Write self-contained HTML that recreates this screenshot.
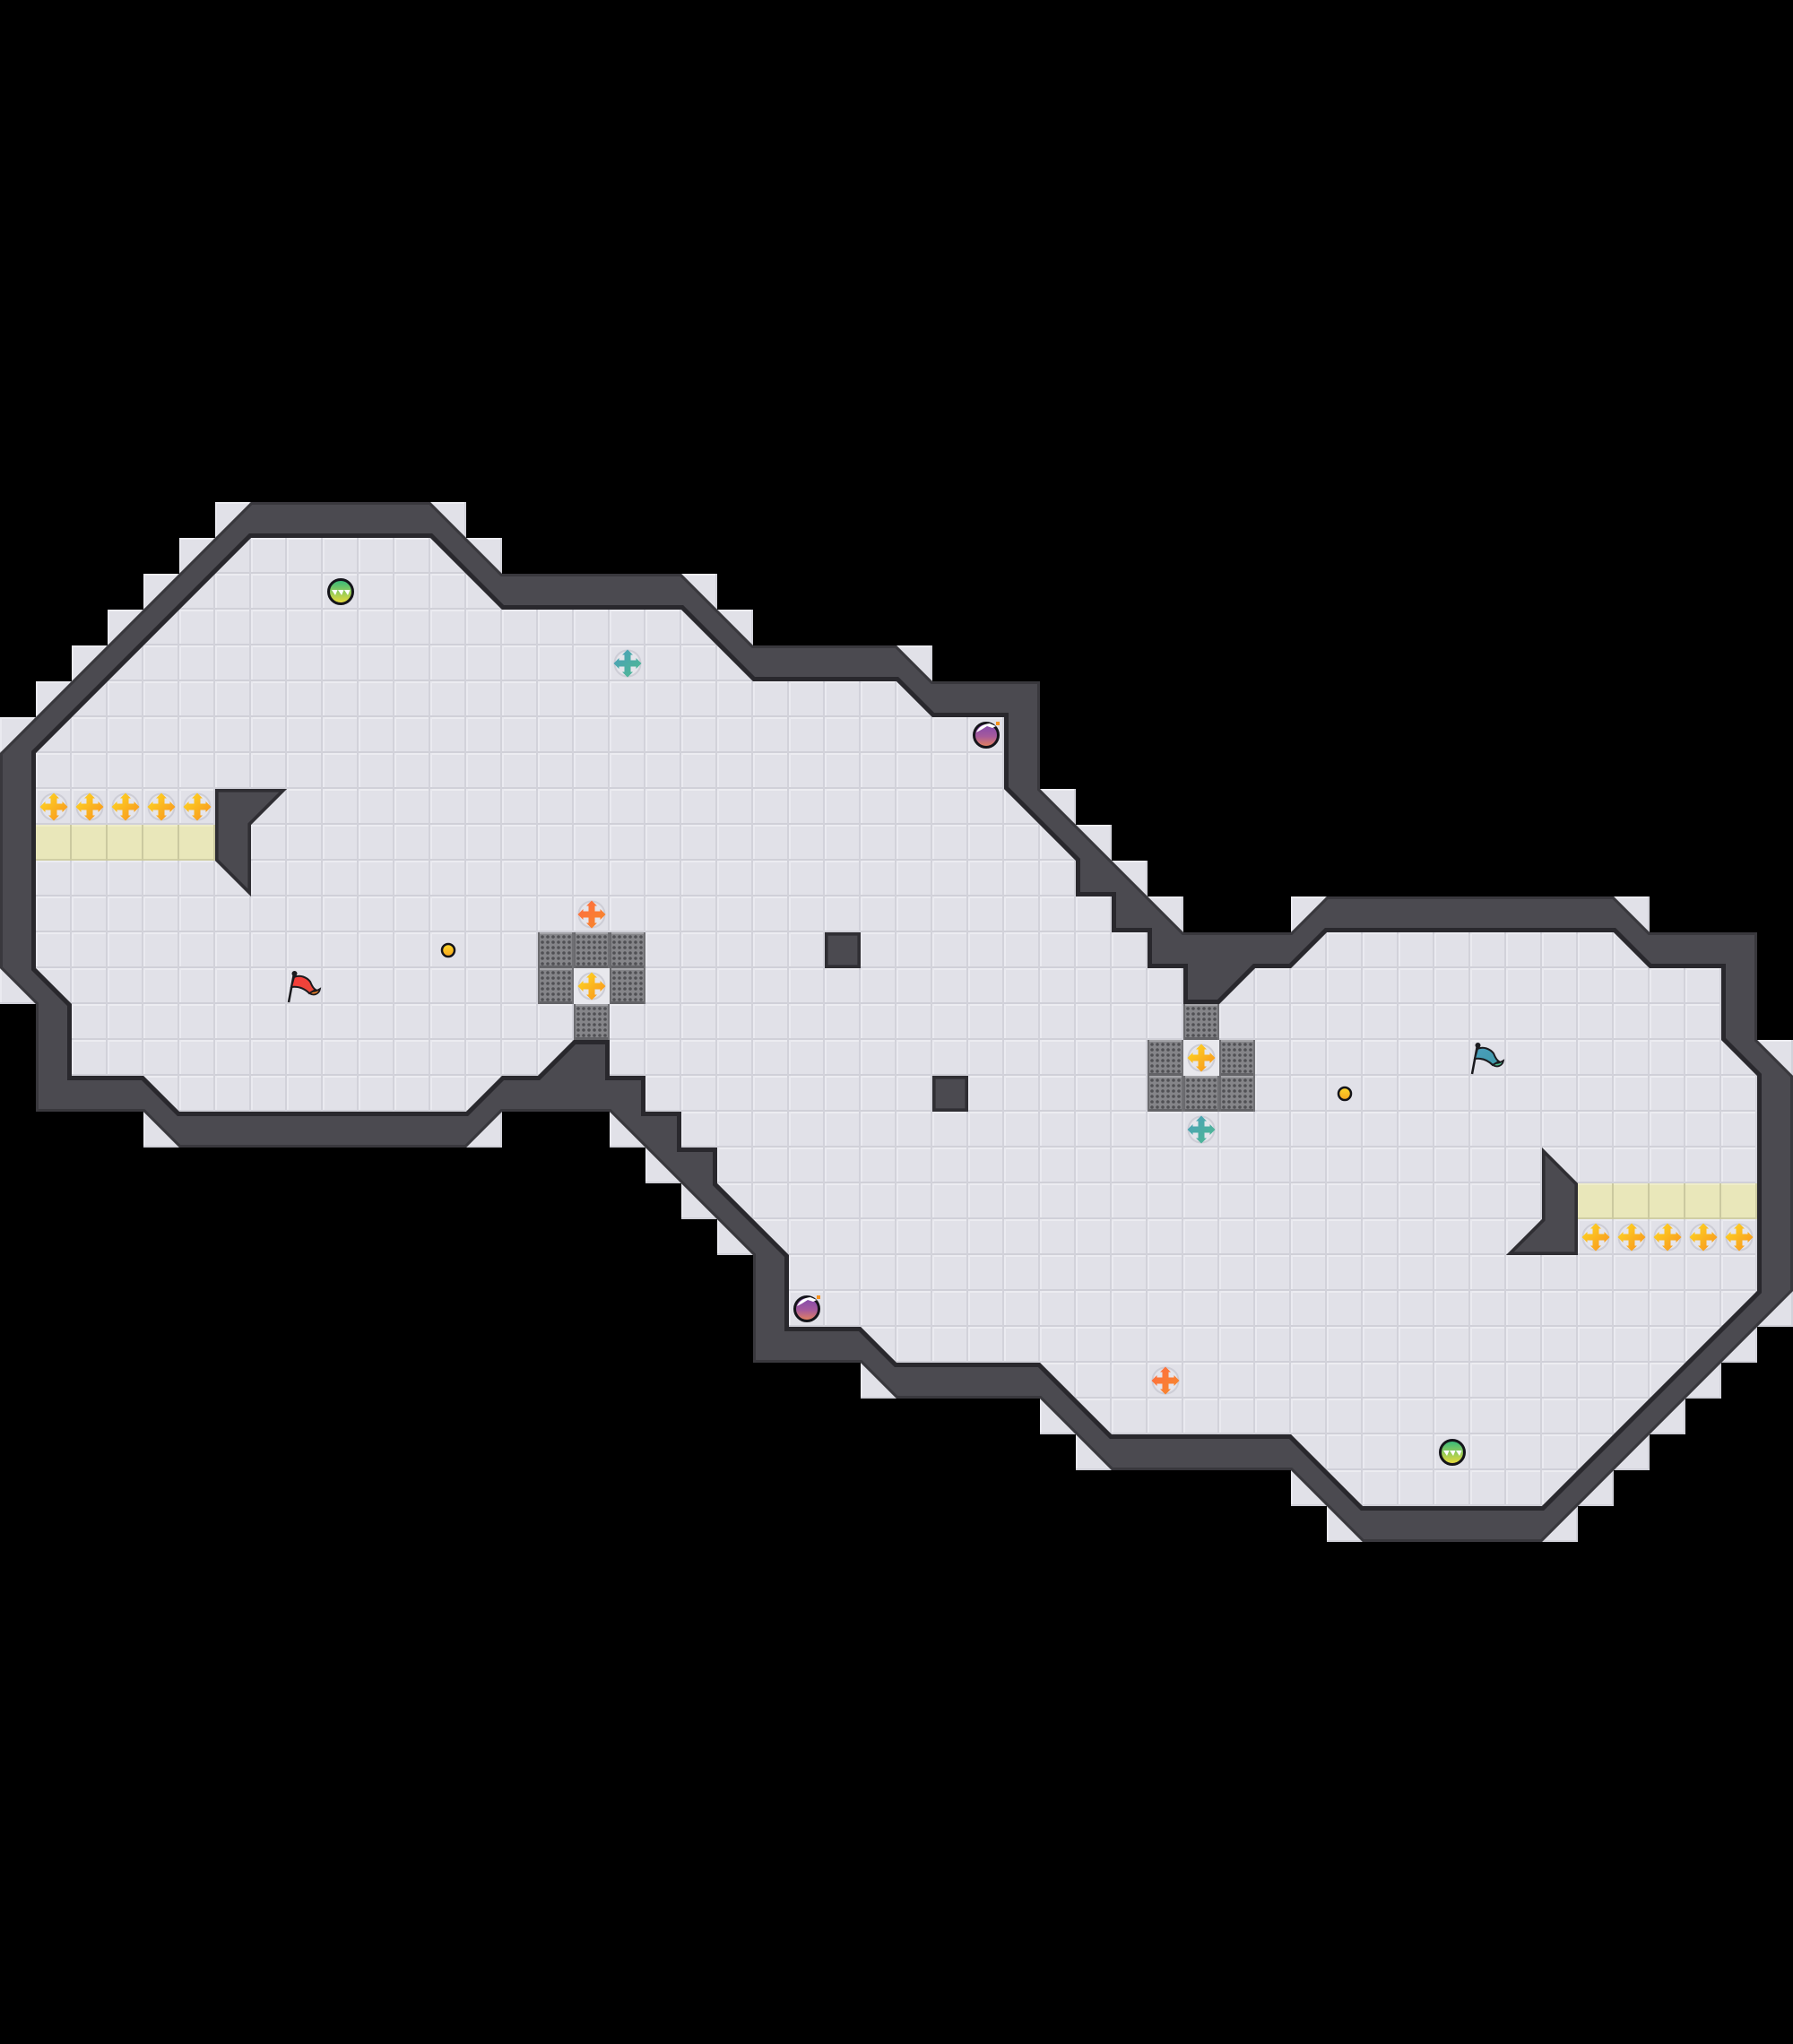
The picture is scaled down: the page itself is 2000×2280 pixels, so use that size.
<!DOCTYPE html>
<html>
<head>
<meta charset="utf-8">
<style>
html,body{margin:0;padding:0;background:#000;width:2000px;height:2280px;overflow:hidden}
svg{display:block}
</style>
</head>
<body>
<svg xmlns="http://www.w3.org/2000/svg" width="2000" height="2280" viewBox="0 0 2000 2280">
<defs>
  <pattern id="t" width="1" height="1" patternUnits="userSpaceOnUse" viewBox="0 0 40 40">
    <rect width="40" height="40" fill="#e1e1e8"/>
    <rect width="40" height="2" fill="#ececf1"/>
    <rect width="2" height="40" fill="#eaeaf0"/>
    <rect y="38" width="40" height="2" fill="#d0d0d8"/>
    <rect x="38" width="2" height="40" fill="#d2d2da"/>
  </pattern>
  <pattern id="y" width="1" height="1" patternUnits="userSpaceOnUse" viewBox="0 0 40 40">
    <rect width="40" height="40" fill="#e9e7ba"/>
    <rect width="40" height="2" fill="#efedc8"/>
    <rect y="38" width="40" height="2" fill="#d0cea4"/>
    <rect x="38" width="2" height="40" fill="#cbc9a0"/>
  </pattern>
  <pattern id="g" width="1" height="1" patternUnits="userSpaceOnUse" viewBox="0 0 40 40">
    <rect width="40" height="40" fill="#858589"/>
    <rect width="40" height="2" fill="#a3a3a7"/>
    <rect y="37" width="40" height="3" fill="#636367"/>
    <rect width="2" height="40" fill="#6a6a6e"/>
    <rect x="38" width="2" height="40" fill="#707074"/>
    <g fill="#505054">
      <circle cx="5" cy="5" r="1.8"/><circle cx="11" cy="5" r="1.8"/><circle cx="17" cy="5" r="1.8"/><circle cx="23" cy="5" r="1.8"/><circle cx="29" cy="5" r="1.8"/><circle cx="35" cy="5" r="1.8"/>
      <circle cx="5" cy="11" r="1.8"/><circle cx="11" cy="11" r="1.8"/><circle cx="17" cy="11" r="1.8"/><circle cx="23" cy="11" r="1.8"/><circle cx="29" cy="11" r="1.8"/><circle cx="35" cy="11" r="1.8"/>
      <circle cx="5" cy="17" r="1.8"/><circle cx="11" cy="17" r="1.8"/><circle cx="17" cy="17" r="1.8"/><circle cx="23" cy="17" r="1.8"/><circle cx="29" cy="17" r="1.8"/><circle cx="35" cy="17" r="1.8"/>
      <circle cx="5" cy="23" r="1.8"/><circle cx="11" cy="23" r="1.8"/><circle cx="17" cy="23" r="1.8"/><circle cx="23" cy="23" r="1.8"/><circle cx="29" cy="23" r="1.8"/><circle cx="35" cy="23" r="1.8"/>
      <circle cx="5" cy="29" r="1.8"/><circle cx="11" cy="29" r="1.8"/><circle cx="17" cy="29" r="1.8"/><circle cx="23" cy="29" r="1.8"/><circle cx="29" cy="29" r="1.8"/><circle cx="35" cy="29" r="1.8"/>
      <circle cx="5" cy="35" r="1.8"/><circle cx="11" cy="35" r="1.8"/><circle cx="17" cy="35" r="1.8"/><circle cx="23" cy="35" r="1.8"/><circle cx="29" cy="35" r="1.8"/><circle cx="35" cy="35" r="1.8"/>
    </g>
  </pattern>

  <linearGradient id="cy" x1="0" y1="0" x2="1" y2="1"><stop offset="0" stop-color="#ffdc23"/><stop offset="1" stop-color="#f78f1e"/></linearGradient>
  <linearGradient id="co" x1="0" y1="0" x2="1" y2="1"><stop offset="0" stop-color="#ff6b42"/><stop offset="1" stop-color="#f68a2a"/></linearGradient>
  <linearGradient id="ct" x1="0" y1="0" x2="1" y2="1"><stop offset="0" stop-color="#4a9ebd"/><stop offset="1" stop-color="#4fbb8f"/></linearGradient>
  <linearGradient id="bg" x1="0" y1="0" x2="0" y2="1"><stop offset="0" stop-color="#2fb87e"/><stop offset="1" stop-color="#f0dc38"/></linearGradient>
  <linearGradient id="bp" x1="0" y1="0" x2="0" y2="1"><stop offset="0" stop-color="#7f48b0"/><stop offset=".55" stop-color="#a65a9c"/><stop offset="1" stop-color="#e8845a"/></linearGradient>
  <linearGradient id="bd" x1="0" y1="0" x2="0" y2="1"><stop offset="0" stop-color="#ffd92b"/><stop offset="1" stop-color="#f7a51e"/></linearGradient>
  <linearGradient id="fr" x1="0" y1="0" x2="1" y2="1"><stop offset="0" stop-color="#f83a3a"/><stop offset="1" stop-color="#e84a3a"/></linearGradient>
  <linearGradient id="ft" x1="0" y1="0" x2="1" y2="1"><stop offset="0" stop-color="#4a9ebd"/><stop offset="1" stop-color="#3f9aa8"/></linearGradient>

  <path id="cross" d="M0,-15.500 L6,-9.500 H3.500 V-3.500 H9.500 V-6 L15.500,0 L9.500,6 V3.500 H3.500 V9.500 H6 L0,15.500 L-6,9.500 H-3.500 V3.500 H-9.500 V6 L-15.500,0 L-9.500,-6 V-3.500 H-3.500 V-9.500 H-6 Z"/>
  <circle id="halo" r="14.500" fill="#e5e5eb" stroke="#cdcdd6" stroke-width="2"/>

  <path id="wall" clip-rule="evenodd" fill-rule="evenodd" d="
   M7 14 L12 14 L14 16 L19 16 L21 18 L25 18 L26 19 L29 19 L29 22 L33 26 L36 26 L37 25 L45 25 L46 26 L49 26 L49 29 L50 30 L50 36 L43 43 L38 43 L36 41 L31 41 L29 39 L25 39 L24 38 L21 38 L21 35 L17 31 L14 31 L13 32 L5 32 L4 31 L1 31 L1 28 L0 27 L0 21 Z
   M7 15 L12 15 L14 17 L19 17 L21 19 L25 19 L26 20 L28 20 L28 22 L30 24 L30 25 L31 25 L31 26 L32 26 L32 27 L33 27 L33 28 L34 28 L35 27 L36 27 L37 26 L45 26 L46 27 L48 27 L48 29 L49 30 L49 36 L43 42 L38 42 L36 40 L31 40 L29 38 L25 38 L24 37 L22 37 L22 35 L20 33 L20 32 L19 32 L19 31 L18 31 L18 30 L17 30 L17 29 L16 29 L15 30 L14 30 L13 31 L5 31 L4 30 L2 30 L2 28 L1 27 L1 21 Z
   M6 22 L8 22 L7 23 L7 25 L6 24 Z
   M44 35 L42 35 L43 34 L43 32 L44 33 Z
   M23 26 H24 V27 H23 Z
   M26 30 H27 V31 H26 Z"/>
  <clipPath id="wc"><use href="#wall"/></clipPath>
</defs>

<rect width="2000" height="2280" fill="#000"/>

<g transform="scale(40)">
  <path fill="url(#t)" d="
   M7 14 L12 14 L14 16 L19 16 L21 18 L25 18 L26 19 L29 19 L29 22 L33 26 L36 26 L37 25 L45 25 L46 26 L49 26 L49 29 L50 30 L50 36 L43 43 L38 43 L36 41 L31 41 L29 39 L25 39 L24 38 L21 38 L21 35 L17 31 L14 31 L13 32 L5 32 L4 31 L1 31 L1 28 L0 27 L0 21 Z
   M6 14h1v1h-1z M5 15h1v1h-1z M4 16h1v1h-1z M3 17h1v1h-1z M2 18h1v1h-1z M1 19h1v1h-1z M0 20h1v1h-1z
   M12 14h1v1h-1z M13 15h1v1h-1z M19 16h1v1h-1z M20 17h1v1h-1z M25 18h1v1h-1z
   M29 22h1v1h-1z M30 23h1v1h-1z M31 24h1v1h-1z M32 25h1v1h-1z
   M36 25h1v1h-1z M45 25h1v1h-1z M49 29h1v1h-1z
   M49 36h1v1h-1z M48 37h1v1h-1z M47 38h1v1h-1z M46 39h1v1h-1z M45 40h1v1h-1z M44 41h1v1h-1z M43 42h1v1h-1z
   M37 42h1v1h-1z M36 41h1v1h-1z M30 40h1v1h-1z M29 39h1v1h-1z M24 38h1v1h-1z
   M20 34h1v1h-1z M19 33h1v1h-1z M18 32h1v1h-1z M17 31h1v1h-1z
   M13 31h1v1h-1z M4 31h1v1h-1z M0 27h1v1h-1z"/>
  <rect x="1" y="23" width="5" height="1" fill="url(#y)"/>
  <rect x="44" y="33" width="5" height="1" fill="url(#y)"/>
  <path fill="url(#g)" d="M15 26h3v1h-3z M15 27h1v1h-1z M17 27h1v1h-1z M16 28h1v1h-1z M33 28h1v1h-1z M32 29h1v1h-1z M34 29h1v1h-1z M32 30h3v1h-3z"/>
  <use href="#wall" fill="#4b4a50"/>
  <g clip-path="url(#wc)" fill="none" stroke-linejoin="miter">
    <path stroke="#39383d" stroke-width=".15" d="M7 14 L12 14 L14 16 L19 16 L21 18 L25 18 L26 19 L29 19 L29 22 L33 26 L36 26 L37 25 L45 25 L46 26 L49 26 L49 29 L50 30 L50 36 L43 43 L38 43 L36 41 L31 41 L29 39 L25 39 L24 38 L21 38 L21 35 L17 31 L14 31 L13 32 L5 32 L4 31 L1 31 L1 28 L0 27 L0 21 Z"/>
    <path stroke="#29282d" stroke-width=".25" d="M7 15 L12 15 L14 17 L19 17 L21 19 L25 19 L26 20 L28 20 L28 22 L30 24 L30 25 L31 25 L31 26 L32 26 L32 27 L33 27 L33 28 L34 28 L35 27 L36 27 L37 26 L45 26 L46 27 L48 27 L48 29 L49 30 L49 36 L43 42 L38 42 L36 40 L31 40 L29 38 L25 38 L24 37 L22 37 L22 35 L20 33 L20 32 L19 32 L19 31 L18 31 L18 30 L17 30 L17 29 L16 29 L15 30 L14 30 L13 31 L5 31 L4 30 L2 30 L2 28 L1 27 L1 21 Z"/>
    <path stroke="#2f2e33" stroke-width=".18" d="M6 22 L8 22 L7 23 L7 25 L6 24 Z M44 35 L42 35 L43 34 L43 32 L44 33 Z M23 26 H24 V27 H23 Z M26 30 H27 V31 H26 Z"/>
  </g>
  <!-- center tiles inside grates -->
  <rect x="16" y="27" width="1" height="1" fill="#e8e8ed"/>
  <rect x="33" y="29" width="1" height="1" fill="#e8e8ed"/>
</g>

<g fill="url(#cy)">
  <g transform="translate(60,900)"><use href="#halo"/><use href="#cross"/></g>
  <g transform="translate(100,900)"><use href="#halo"/><use href="#cross"/></g>
  <g transform="translate(140,900)"><use href="#halo"/><use href="#cross"/></g>
  <g transform="translate(180,900)"><use href="#halo"/><use href="#cross"/></g>
  <g transform="translate(220,900)"><use href="#halo"/><use href="#cross"/></g>
  <g transform="translate(1780,1380)"><use href="#halo"/><use href="#cross"/></g>
  <g transform="translate(1820,1380)"><use href="#halo"/><use href="#cross"/></g>
  <g transform="translate(1860,1380)"><use href="#halo"/><use href="#cross"/></g>
  <g transform="translate(1900,1380)"><use href="#halo"/><use href="#cross"/></g>
  <g transform="translate(1940,1380)"><use href="#halo"/><use href="#cross"/></g>
  <g transform="translate(660,1100)"><use href="#halo"/><use href="#cross"/></g>
  <g transform="translate(1340,1180)"><use href="#halo"/><use href="#cross"/></g>
</g>
<g fill="url(#co)">
  <g transform="translate(660,1020)"><use href="#halo"/><use href="#cross"/></g>
  <g transform="translate(1300,1540)"><use href="#halo"/><use href="#cross"/></g>
</g>
<g fill="url(#ct)">
  <g transform="translate(700,740)"><use href="#halo"/><use href="#cross"/></g>
  <g transform="translate(1340,1260)"><use href="#halo"/><use href="#cross"/></g>
</g>

<g>
  <circle cx="380" cy="660" r="13.500" fill="url(#bg)" stroke="#14141a" stroke-width="3"/>
  <path fill="#fff" d="M370 658h6.500l-2.500 6z M377 658h6.500l-2.500 6z M384 658h6.500l-2.500 6z"/>
</g>
<g>
  <circle cx="1620" cy="1620" r="13.500" fill="url(#bg)" stroke="#14141a" stroke-width="3"/>
  <path fill="#fff" d="M1610 1618h6.500l-2.500 6z M1617 1618h6.500l-2.500 6z M1624 1618h6.500l-2.500 6z"/>
</g>

<g>
  <circle cx="1100" cy="820" r="13.500" fill="url(#bp)" stroke="#14141a" stroke-width="3"/>
  <path fill="#fff" d="M1089 817 Q1093 808 1104 807 L1111 810 L1107 812 L1101 810 Q1095 814 1089 817Z"/>
  <rect x="1111" y="805" width="4" height="4" fill="#f7931e"/>
</g>
<g>
  <circle cx="900" cy="1460" r="13.500" fill="url(#bp)" stroke="#14141a" stroke-width="3"/>
  <path fill="#fff" d="M889 1457 Q893 1448 904 1447 L911 1450 L907 1452 L901 1450 Q895 1454 889 1457Z"/>
  <rect x="911" y="1445" width="4" height="4" fill="#f7931e"/>
</g>

<circle cx="500" cy="1060" r="7" fill="url(#bd)" stroke="#14141a" stroke-width="2.500"/>
<circle cx="1500" cy="1220" r="7" fill="url(#bd)" stroke="#14141a" stroke-width="2.500"/>

<g>
  <path d="M328 1086 L322 1118" stroke="#1a1a1e" stroke-width="2.500" fill="none"/>
  <circle cx="328.500" cy="1086" r="3" fill="#1a1a1e"/>
  <path d="M346 1104 C349 1107 352 1106 357 1103 C356 1109 350 1111 345 1108 Z" fill="#f5852a" stroke="#1a1a1e" stroke-width="1.800"/>
  <path d="M328 1090 C335 1087 342 1090 346 1095 C348 1100 350 1103 352 1104 L345 1108 C340 1103 333 1100 325 1101 Z" fill="url(#fr)" stroke="#1a1a1e" stroke-width="2"/>
</g>
<g transform="translate(1320,80)">
  <path d="M328 1086 L322 1118" stroke="#1a1a1e" stroke-width="2.500" fill="none"/>
  <circle cx="328.500" cy="1086" r="3" fill="#1a1a1e"/>
  <path d="M346 1104 C349 1107 352 1106 357 1103 C356 1109 350 1111 345 1108 Z" fill="#4fbb8f" stroke="#1a1a1e" stroke-width="1.800"/>
  <path d="M328 1090 C335 1087 342 1090 346 1095 C348 1100 350 1103 352 1104 L345 1108 C340 1103 333 1100 325 1101 Z" fill="url(#ft)" stroke="#1a1a1e" stroke-width="2"/>
</g>
</svg>
</body>
</html>
